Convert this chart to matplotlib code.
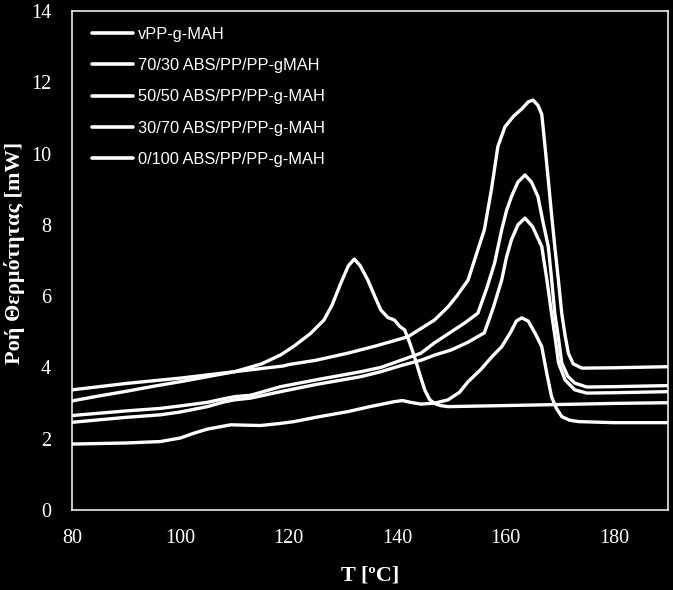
import matplotlib
matplotlib.use('Agg')
import matplotlib.pyplot as plt

# DSC curves (T in C, heat flow in mW)
t_vpp = [80, 85, 90, 95, 100, 105, 110, 115, 118.5, 121, 124, 126.5, 128, 129.6, 131, 132.1,
         133.2, 134.6, 136, 137, 138.3, 139.5, 140.5, 141.4, 142.3, 143.2, 144.2, 145.1, 146,
         146.9, 148, 149.4, 160, 170, 180, 190]
y_vpp = [3.06, 3.2, 3.33, 3.47, 3.6, 3.74, 3.88, 4.1, 4.35, 4.6, 4.95, 5.33, 5.75, 6.36, 6.85, 7.04,
         6.85, 6.45, 5.95, 5.61, 5.4, 5.33, 5.15, 5.05, 4.7, 4.3, 3.8, 3.37, 3.1,
         2.99, 2.93, 2.9, 2.93, 2.96, 2.99, 3.01]

t_7030 = [80, 90, 96.3, 100, 102.4, 105, 109.3, 112, 114.8, 118.5, 121, 125, 130.9, 135, 139.5,
          141, 142.5, 144.4, 147, 149.4, 151.5, 153.1, 155.5, 157.5, 159.3, 161, 162, 163, 164.2,
          165.5, 166.7, 167.6, 168.5, 169.4, 170.4, 171.8, 173.5, 180, 190]
y_7030 = [1.85, 1.88, 1.92, 2.02, 2.15, 2.27, 2.39, 2.38, 2.37, 2.43, 2.48, 2.6, 2.76, 2.9, 3.04,
          3.07, 3.02, 2.97, 3.0, 3.09, 3.3, 3.6, 3.95, 4.3, 4.58, 5.0, 5.3, 5.39, 5.3,
          4.95, 4.58, 3.85, 3.18, 2.85, 2.62, 2.52, 2.48, 2.45, 2.45]

t_5050 = [80, 90, 96.3, 100, 105, 108, 110, 113, 118.5, 125, 133.3, 137, 140.7, 144.4, 147, 150,
          153, 156.1, 157.8, 159.3, 160.2, 161.1, 162.3, 163.6, 165, 166.7, 167.6, 168.5, 169.2,
          169.8, 171, 172.8, 175, 180, 190]
y_5050 = [2.46, 2.6, 2.67, 2.75, 2.9, 3.03, 3.09, 3.14, 3.32, 3.52, 3.74, 3.88, 4.05, 4.2, 4.35, 4.49,
          4.7, 4.97, 5.7, 6.45, 7.1, 7.58, 8.0, 8.19, 7.95, 7.39, 6.5, 5.52, 4.8,
          4.12, 3.65, 3.37, 3.28, 3.29, 3.32]

t_3070 = [80, 90, 96.3, 100, 105, 108, 110, 113, 118.5, 125, 133.3, 137, 140.7, 144.4, 146.9, 150,
          152.5, 154.9, 156.5, 158, 159.3, 160.2, 161.1, 162.3, 163.6, 164.8, 166, 166.9, 167.9,
          168.5, 169.1, 169.8, 170.4, 171.5, 172.8, 175, 180, 190]
y_3070 = [2.65, 2.78, 2.85, 2.92, 3.02, 3.12, 3.18, 3.22, 3.46, 3.65, 3.88, 4.0, 4.2, 4.4, 4.69, 5.0,
          5.25, 5.52, 6.2, 6.93, 7.86, 8.4, 8.79, 9.2, 9.4, 9.2, 8.79, 8.1, 7.39,
          6.5, 5.52, 4.8, 4.12, 3.75, 3.56, 3.45, 3.46, 3.49]

t_0100 = [80, 90, 100, 110, 115, 119, 120, 125, 130.9, 136, 142, 146.9, 149.4, 151, 153.1, 154.9,
          156.1, 157.4, 158.6, 159.9, 161.5, 163, 164.2, 165.1, 166, 166.7, 167.3, 167.9, 168.5,
          169.1, 169.8, 170.4, 171, 171.6, 172.5, 174.1, 180, 190]
y_0100 = [3.37, 3.55, 3.7, 3.88, 3.97, 4.04, 4.08, 4.2, 4.4, 4.6, 4.86, 5.33, 5.7, 6.0, 6.45, 7.3,
          7.86, 8.98, 10.2, 10.75, 11.05, 11.25, 11.45, 11.5, 11.35, 11.1, 10.2, 9.26, 8.3,
          7.4, 6.4, 5.5, 4.9, 4.4, 4.1, 3.98, 3.99, 4.02]

labels = ['vPP-g-MAH', '70/30 ABS/PP/PP-gMAH', '50/50 ABS/PP/PP-g-MAH',
          '30/70 ABS/PP/PP-g-MAH', '0/100 ABS/PP/PP-g-MAH']
xs = [t_vpp, t_7030, t_5050, t_3070, t_0100]
ys = [y_vpp, y_7030, y_5050, y_3070, y_0100]

fig = plt.figure(figsize=(6.73, 5.9), dpi=100, facecolor='black')
ax = fig.add_axes([0.107, 0.1356, 0.8856, 0.8458])
ax.set_facecolor('black')

for x, y, lab in zip(xs, ys, labels):
    ax.plot(x, y, color='white', lw=2.4, label=lab, solid_capstyle='round', solid_joinstyle='round')

ax.set_xlim(80, 190)
ax.set_ylim(0, 14)
ax.set_xticks(range(80, 190, 20))
ax.set_yticks(range(0, 15, 2))
for s in ax.spines.values():
    s.set_color('white')
    s.set_linewidth(1.1)
ax.tick_params(length=0, colors='white', labelsize=14.5)
ax.tick_params(axis='x', pad=14)
ax.tick_params(axis='y', pad=15)
for lb in ax.get_xticklabels() + ax.get_yticklabels():
    lb.set_fontfamily('Liberation Serif')

ax.set_xlabel('T [ºC]', color='white', fontsize=16, fontweight='bold', family='Liberation Serif', labelpad=12)
ax.set_ylabel('Ροή Θερμότητας [mW]', color='white', fontsize=16, fontweight='bold',
              family='Liberation Serif')
ax.yaxis.set_label_coords(-0.079, 0.515)

leg = ax.legend(loc='upper left', bbox_to_anchor=(0.02, 0.985), frameon=False,
                handlelength=2.5, handletextpad=0.3, labelspacing=1.0, borderpad=0,
                prop={'family': ['Liberation Sans Narrow', 'DejaVu Sans Condensed', 'Liberation Sans'],
                      'size': 11.8})
for txt in leg.get_texts():
    txt.set_color('white')
for ln in leg.get_lines():
    ln.set_linewidth(2.6)

fig.savefig('out.png', dpi=100, facecolor='black')
